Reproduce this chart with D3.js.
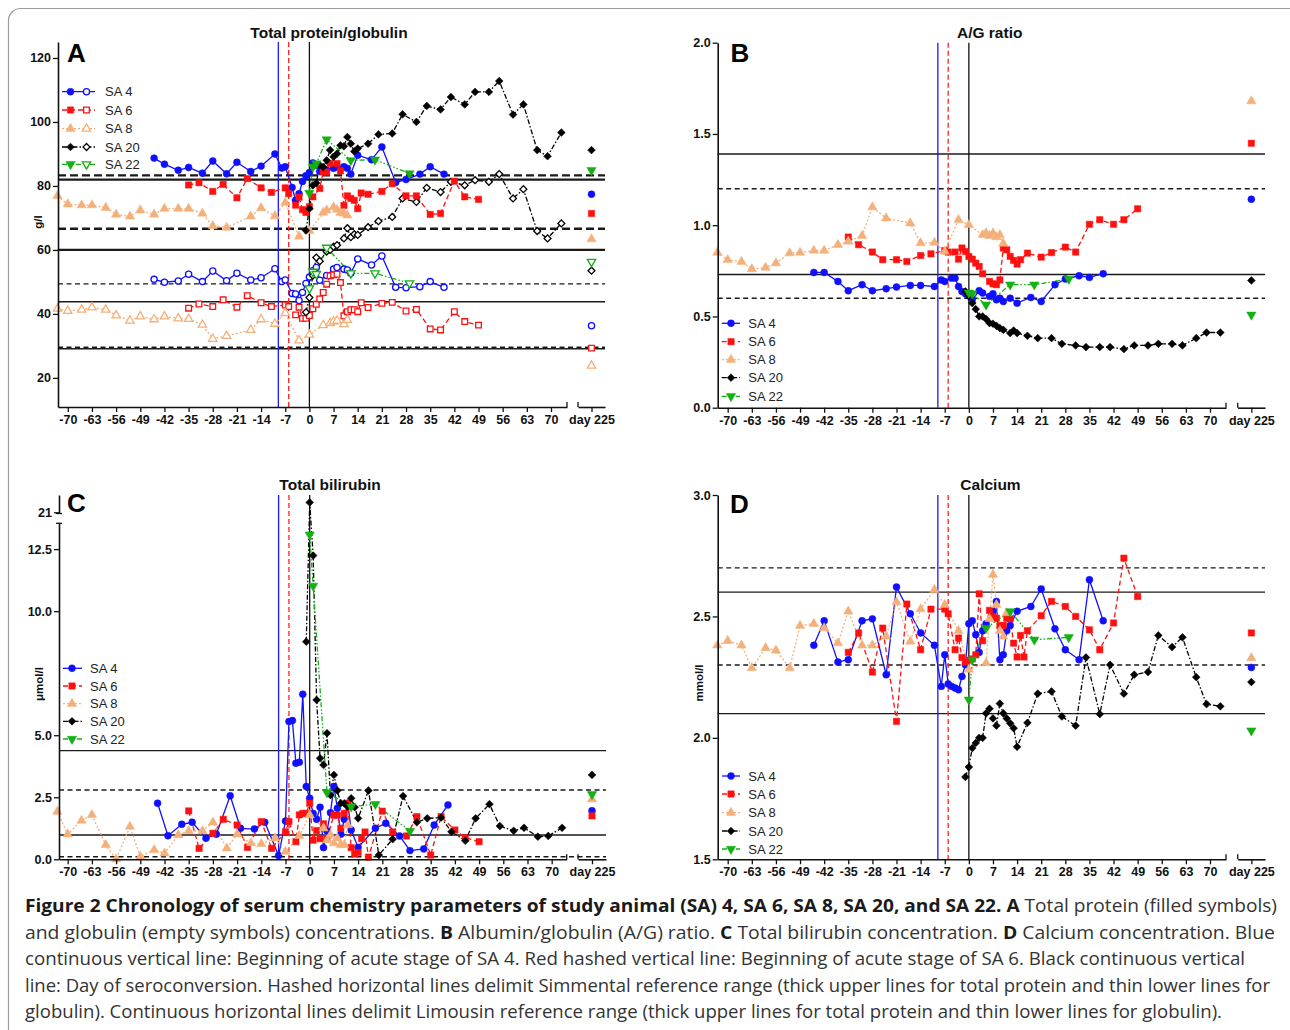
<!DOCTYPE html>
<html>
<head>
<meta charset="utf-8">
<script src="https://cdn.jsdelivr.net/npm/d3@7.9.0/dist/d3.min.js"></script>
<style>
  body { margin: 0; background: #fff; }
  svg { display: block; }
</style>
</head>
<body>
<svg id="fig" width="1290" height="1030"></svg>
<script>
// animals, in legend order
const animals = ['SA 4', 'SA 6', 'SA 8', 'SA 20', 'SA 22'];
const xTicks = d3.range(-70, 71, 7);

// ---- A: total protein (filled) / globulin (open), g/l
const tpSA4 = [[-45,88.7],[-42,86.8],[-38,84.9],[-35,85.8],[-31,84],[-28,87.8],[-24,83.8],[-21,87.4],[-17,84.5],[-14,86.2],[-10,90],[-8,85.6],[-7,86],[-5,79.5],[-4,75.5],[-3,77.6],[-2,81.4],[-1,83.2],[0,84.2],[1,87.2],[2,86.5],[3,84.5],[5,85],[7,85.5],[8,86],[10,86],[11,85.5],[12,83.7],[14,89.6],[18,88.2],[21,92.2],[25,81.1],[28,82],[32,83.7],[35,86],[39,83.7]];
const tpSA6 = [[-35,80.3],[-32,81],[-28,78.3],[-25,80.5],[-21,76.3],[-18,82.3],[-14,79.4],[-11,78],[-7,79.4],[-6,77.6],[-4,74],[-3,76.5],[-2,72.6],[-1,71.7],[0,73.5],[1,76.6],[3,79.2],[4,84.4],[5,84.3],[6,87],[8,87],[9,84.7],[10,73.9],[11,76.9],[12,76.1],[13,75.5],[14,72.9],[15,77.8],[17,77.4],[21,78.3],[24,80.7],[28,76.9],[31,76.9],[35,71.1],[38,71.4],[42,81.5],[45,76.6],[49,75.8]];
const tpSA8 = [[-73,76.9],[-70,74.3],[-66,74],[-63,74],[-59,73.2],[-56,71.1],[-52,70.5],[-49,72.4],[-45,71.1],[-42,72.9],[-38,72.9],[-35,72.9],[-31,71.4],[-28,67.5],[-24,67],[-17,70.5],[-14,73.1],[-10,70.6],[-7,74.8],[-3,64.2],[0,66],[4,71.7],[5,72.4],[7,73.4],[8,72.6],[9,71.6],[10,71.4],[11,70.8]];
const tpSA20 = [[-1,66.1],[0,72.9],[1,80.2],[2,80.9],[3,86.5],[4,85.9],[5,88],[6,91.2],[7,89.1],[8,90.1],[9,92.7],[10,92.4],[11,95.3],[12,93.2],[13,90.8],[14,91.7],[17,93.2],[20,96.1],[24,96.4],[27,102.4],[31,100],[34,105],[38,103.9],[41,107.8],[45,105.5],[48,109.4],[52,109.4],[55,112.8],[59,102.3],[62,105.5],[66,91.2],[69,89.3],[73,96.7]];
const tpSA22 = [[0,77.8],[1,86],[2,87],[5,94.5],[12,88],[19,88.2],[29,83.9]];
const globSA4 = [[-45,50.8],[-42,49.9],[-38,50.3],[-35,52.4],[-31,50.1],[-28,53.4],[-24,50.4],[-21,52.7],[-17,50.6],[-14,51.3],[-10,54.1],[-8,50.1],[-7,50.6],[-5,46.4],[-4,46.2],[-3,44.2],[-2,46.7],[-1,49.5],[0,51.5],[1,53.5],[2,54.5],[3,50.5],[5,52],[7,54],[8,54.5],[10,54],[11,53.7],[12,52.7],[14,57.2],[18,55.3],[21,58.1],[25,48.3],[28,48.2],[32,48.5],[35,50.1],[39,48.3]];
const globSA6 = [[-35,41.8],[-32,43.1],[-28,42.3],[-25,44.4],[-21,42.1],[-18,45.7],[-14,43.5],[-11,42.3],[-7,42.8],[-6,42.3],[-4,39.7],[-3,42.1],[-2,38.6],[-1,38.6],[0,39.5],[1,41.6],[2,43],[3,44.7],[4,46.7],[5,49.3],[6,51.9],[7,52.2],[8,52.4],[9,49.8],[10,39.4],[11,40.7],[12,41.3],[13,41.3],[14,40.7],[15,43.5],[17,42],[21,43.3],[24,43.6],[28,40.9],[31,41.4],[35,35.3],[38,35],[42,40.7],[45,37.6],[49,36.5]];
const globSA8 = [[-73,41.6],[-70,40.9],[-66,41.3],[-63,42],[-59,41.3],[-56,39.5],[-52,37.9],[-49,39.2],[-45,38.3],[-42,39.2],[-38,38.6],[-35,38.4],[-31,36.6],[-28,32.2],[-24,33.1],[-17,35],[-14,38.3],[-10,36.9],[-7,40.2],[-3,31.7],[0,33.5],[4,36.5],[6,37.1],[7,37.6],[8,37.9],[10,36.8],[11,38.1]];
const globSA20 = [[-1,40.5],[0,45.1],[1,52],[2,57.6],[3,56.5],[5,59.5],[6,60],[7,61],[8,61.5],[10,63.6],[11,66.8],[12,64],[13,64.9],[14,64.7],[17,67.1],[20,69],[24,70.3],[27,76.1],[31,75],[34,79.4],[38,78.1],[41,81.3],[45,80.2],[48,81.8],[52,81.3],[55,83.7],[59,76.1],[62,79],[66,65.9],[69,63.6],[73,68.3]];
const globSA22 = [[0,48],[1,53.2],[2,52.5],[5,60.7],[12,52.7],[19,52.7],[29,49.6]];
const tpDay225 = [77.4, 71.4, 63.4, 91.2, 84.9];
const globDay225 = [36.3, 29.3, 23.8, 53.5, 56.3];
const refTpSimmental = [66.6, 83.3];
const refTpLimousin = [60, 82];
const refGlobSimmental = [29.6, 49.4];
const refGlobLimousin = [29.1, 43.8];

// ---- B: A/G ratio
const agSA4 = [[-45,0.741],[-42,0.741],[-38,0.692],[-35,0.641],[-31,0.674],[-28,0.641],[-24,0.652],[-21,0.661],[-17,0.67],[-14,0.67],[-10,0.664],[-8,0.70],[-7,0.692],[-5,0.71],[-4,0.71],[-3,0.664],[-2,0.637],[-1,0.624],[0,0.613],[1,0.591],[3,0.641],[4,0.628],[6,0.61],[7,0.624],[8,0.591],[9,0.6],[10,0.582],[12,0.6],[14,0.573],[18,0.604],[21,0.582],[25,0.674],[28,0.705],[32,0.723],[35,0.714],[39,0.734]];
const agSA6 = [[-35,0.935],[-32,0.893],[-28,0.853],[-25,0.811],[-21,0.811],[-18,0.801],[-14,0.834],[-11,0.843],[-7,0.861],[-6,0.853],[-4,0.853],[-3,0.814],[-2,0.875],[-1,0.856],[0,0.829],[1,0.814],[2,0.792],[3,0.774],[4,0.734],[6,0.692],[7,0.679],[8,0.674],[9,0.70],[10,0.875],[11,0.865],[12,0.829],[13,0.807],[14,0.787],[15,0.811],[17,0.847],[21,0.825],[24,0.85],[28,0.88],[31,0.853],[35,1.005],[38,1.03],[42,1.005],[45,1.03],[49,1.09]];
const agSA8 = [[-73,0.85],[-70,0.81],[-66,0.80],[-63,0.76],[-59,0.768],[-56,0.792],[-52,0.847],[-49,0.85],[-45,0.861],[-42,0.861],[-38,0.893],[-35,0.911],[-31,0.942],[-28,1.099],[-24,1.038],[-17,1.011],[-14,0.902],[-10,0.905],[-7,0.856],[-3,1.029],[0,1.002],[4,0.947],[5,0.957],[6,0.942],[7,0.957],[8,0.935],[9,0.947],[10,0.9]];
const agSA20 = [[-1,0.637],[0,0.61],[1,0.573],[2,0.54],[3,0.5],[4,0.5],[5,0.486],[6,0.464],[7,0.46],[8,0.449],[9,0.436],[10,0.427],[12,0.409],[13,0.423],[14,0.409],[17,0.394],[20,0.381],[24,0.381],[27,0.35],[31,0.341],[34,0.332],[38,0.332],[41,0.332],[45,0.321],[48,0.341],[52,0.341],[55,0.35],[59,0.35],[62,0.341],[66,0.381],[69,0.412],[73,0.412]];
const agSA22 = [[0,0.63],[1,0.625],[5,0.564],[12,0.674],[19,0.674],[29,0.705]];
const agDay225 = [1.142, 1.449, 1.68, 0.697, 0.509];
const refAgSimmental = [0.6, 1.2];
const refAgLimousin = [0.73, 1.39];

// ---- C: total bilirubin, µmol/l
const bilSA4 = [[-44,2.26],[-41,0.95],[-37,1.41],[-34,1.49],[-30,0.85],[-27,1.01],[-23,2.56],[-20,1.25],[-16,1.22],[-13,1.49],[-9,0.15],[-7,1.54],[-6,5.55],[-5,5.59],[-4,3.87],[-3,3.91],[-2,6.65],[-1,2.93],[0,2.46],[1,1.85],[2,1.61],[3,2.1],[4,0.47],[5,1.14],[6,1.88],[7,2.93],[8,2.06],[9,1.01],[10,1.61],[11,2.26],[12,1.18],[14,0.48],[19,1.25],[22,1.45],[26,0.94],[29,0.35],[33,0.42],[36,1.38],[40,2.19]];
const bilSA6 = [[-35,1.95],[-32,0.44],[-28,1.05],[-25,1.61],[-21,1.38],[-18,0.48],[-14,1.52],[-11,0.44],[-7,1.11],[-6,1.52],[-4,0.71],[-3,1.79],[-2,1.85],[-1,1.85],[0,2.26],[1,0.77],[2,1.16],[3,0.83],[4,1.43],[5,0.83],[7,1.78],[8,1.78],[9,1.25],[10,1.85],[11,2.26],[12,0.47],[13,0.21],[14,0.27],[15,0.83],[16,1.1],[17,0.09],[21,1.94],[24,1.1],[28,0.94],[31,1.72],[35,0.17],[38,1.72],[42,1.18],[45,0.87],[49,0.71]];
const bilSA8 = [[-73,1.92],[-70,1.01],[-66,1.56],[-63,1.79],[-59,0.58],[-56,0],[-52,1.32],[-49,0.11],[-45,0.38],[-42,0.24],[-38,0.98],[-35,1.14],[-31,1.14],[-28,1.49],[-24,0.44],[-21,1.01],[-17,0.65],[-14,0.62],[-10,0.85],[-7,0.31],[-3,0.95],[0,1.79],[4,1.25],[5,0.77],[6,0.98],[7,0.65],[8,0.85],[9,0.58],[10,0.58],[11,1.38]];
const bilSA20 = [[-1,8.77],[0,21.4],[1,12.24],[2,6.42],[3,4.07],[4,3.8],[5,5.08],[6,2.59],[7,3.4],[8,2.77],[9,2.26],[10,2.25],[11,2.12],[12,2.46],[13,2.1],[14,1.65],[17,2.77],[20,0.17],[24,0.81],[27,2.55],[31,1.49],[34,1.65],[38,1.68],[41,1.11],[45,0.75],[48,1.65],[52,2.22],[55,1.34],[59,1.15],[62,1.27],[66,0.91],[69,0.94],[73,1.27]];
const bilSA22 = [[0,13.08],[1,11.02],[5,2.69],[12,2.12],[19,2.22],[29,1.14]];
const bilDay225 = [1.96, 1.75, 2.42, 3.4, 2.62];
const refBilSimmental = [0.1, 2.79];
const refBilLimousin = [0.98, 4.38];

// ---- D: calcium, mmol/l
const caSA4 = [[-45,2.381],[-42,2.482],[-38,2.312],[-35,2.322],[-31,2.482],[-28,2.49],[-24,2.26],[-21,2.621],[-17,2.511],[-14,2.432],[-10,2.381],[-8,2.212],[-7,2.342],[-6,2.222],[-5,2.212],[-4,2.205],[-3,2.198],[-2,2.253],[-1,2.301],[0,2.47],[1,2.482],[2,2.425],[3,2.352],[4,2.441],[5,2.47],[7,2.521],[8,2.562],[9,2.322],[10,2.342],[11,2.441],[12,2.463],[14,2.521],[18,2.541],[21,2.613],[25,2.449],[28,2.363],[32,2.322],[35,2.651],[39,2.482]];
const caSA6 = [[-35,2.352],[-32,2.432],[-28,2.271],[-25,2.452],[-21,2.068],[-18,2.551],[-14,2.363],[-11,2.53],[-7,2.53],[-6,2.511],[-4,2.363],[-3,2.411],[-2,2.331],[-1,2.312],[0,2.32],[1,2.325],[2,2.342],[3,2.593],[4,2.4],[6,2.525],[7,2.5],[8,2.493],[9,2.462],[10,2.463],[11,2.493],[12,2.49],[13,2.39],[14,2.333],[15,2.422],[16,2.333],[17,2.441],[21,2.503],[24,2.562],[28,2.541],[31,2.5],[35,2.445],[38,2.363],[42,2.473],[45,2.74],[49,2.582]];
const caSA8 = [[-73,2.381],[-70,2.4],[-66,2.381],[-63,2.288],[-59,2.37],[-56,2.36],[-52,2.288],[-49,2.462],[-45,2.47],[-42,2.452],[-38,2.39],[-35,2.521],[-31,2.381],[-28,2.381],[-24,2.418],[-21,2.559],[-17,2.397],[-14,2.53],[-10,2.61],[-7,2.548],[-3,2.441],[0,2.281],[5,2.308],[6,2.49],[7,2.672],[8,2.548],[9,2.441],[10,2.418],[11,2.514]];
const caSA20 = [[-1,1.839],[0,1.88],[1,1.958],[2,1.979],[3,2.0],[4,2.0],[5,2.101],[6,2.12],[7,2.08],[8,2.05],[9,2.141],[10,2.101],[11,2.08],[12,2.06],[13,2.04],[14,1.963],[17,2.062],[20,2.182],[24,2.191],[27,2.088],[31,2.05],[34,2.331],[38,2.098],[41,2.301],[45,2.182],[48,2.26],[52,2.271],[55,2.422],[59,2.374],[62,2.414],[66,2.25],[69,2.139],[73,2.13]];
const caSA22 = [[0,2.157],[1,2.322],[5,2.452],[12,2.521],[19,2.404],[29,2.414]];
const caDay225 = [2.29, 2.432, 2.329, 2.23, 2.03];
const refCaSimmental = [2.3, 2.7];
const refCaLimousin = [2.1, 2.6];

// ---- styling
const colors = ['#1010ff', '#ff1010', '#f4b07a', '#000000', '#14b014'];
const dashes = [null, '5,3', '2,2', '5,2,1.5,2', '5,2,1.5,2,1.5,2'];
const symTypes = [d3.symbolCircle, d3.symbolSquare, d3.symbolTriangle, d3.symbolSquare, d3.symbolTriangle];
const symRot = [0, 0, 0, 45, 180];
const symSize = [38, 40, 38, 30, 38];
const FONT = '"Liberation Sans", Arial, Helvetica, sans-serif';

const svg = d3.select('#fig');
svg.append('rect')
  .attr('x', 8.5).attr('y', 8.5).attr('width', 1310).attr('height', 1100).attr('rx', 12)
  .attr('fill', '#fff').attr('stroke', '#9c9c9c').attr('stroke-width', 1.2);

function drawMarker(g, i, cx, cy, open) {
  g.append('path')
    .attr('d', d3.symbol().type(symTypes[i]).size(open ? symSize[i] * 0.8 : symSize[i])())
    .attr('transform', `translate(${cx},${cy}) rotate(${symRot[i]})`)
    .attr('fill', open ? '#fff' : colors[i])
    .attr('stroke', colors[i])
    .attr('stroke-width', open ? 1.3 : 0.5);
}

function styleAxis(a) {
  a.attr('font-family', FONT).attr('font-size', 12.5).attr('font-weight', 'bold');
  a.select('.domain').attr('stroke', '#111').attr('stroke-width', 1.6);
  a.selectAll('.tick line').attr('stroke', '#111').attr('stroke-width', 1.3);
  a.selectAll('.tick text').attr('fill', '#111');
}

function drawPanel(p) {
  const g = svg.append('g');
  const x = d3.scaleLinear().domain([-70, 70]).range(p.xr);
  const x2 = d3.scaleLinear().domain([221, 229]).range(p.seg2);
  const xp = d => d > 150 ? x2(d) : x(d);
  const y = p.y;

  // reference lines
  p.refs.forEach(r => {
    r.vals.forEach(v => {
      g.append('line')
        .attr('x1', p.left).attr('x2', p.seg2[1])
        .attr('y1', y(v)).attr('y2', y(v))
        .attr('stroke', '#1a1a1a').attr('stroke-width', r.w)
        .attr('stroke-dasharray', r.dash);
    });
  });

  // vertical event lines
  const vlines = [
    { d: -9, c: '#1a1aff', dash: null },
    { d: -6, c: '#ff2020', dash: '5,3' },
    { d: 0, c: '#111', dash: null }
  ];
  vlines.forEach(v => {
    g.append('line')
      .attr('x1', x(v.d)).attr('x2', x(v.d))
      .attr('y1', p.top).attr('y2', p.bottom)
      .attr('stroke', v.c).attr('stroke-width', 1.3)
      .attr('stroke-dasharray', v.dash);
  });

  // series lines
  const line = d3.line().x(d => xp(d[0])).y(d => y(d[1]));
  p.series.forEach(s => {
    g.append('path').datum(s.data)
      .attr('d', line)
      .attr('fill', 'none')
      .attr('stroke', colors[s.i]).attr('stroke-width', 1.3)
      .attr('stroke-dasharray', dashes[s.i]);
  });
  p.series.forEach(s => {
    s.data.forEach(d => drawMarker(g, s.i, xp(d[0]), y(d[1]), s.open));
  });
  p.day225.forEach(set => {
    set.vals.forEach((v, i) => drawMarker(g, i, x2(225), y(v), set.open));
  });

  // x axis (main segment + day 225 segment)
  const xa = d3.scaleLinear().domain([x.invert(p.left), x.invert(p.brk)]).range([p.left, p.brk]);
  const ax1 = g.append('g').attr('transform', `translate(0,${p.bottom})`)
    .call(d3.axisBottom(xa).tickValues(xTicks).tickFormat(d => String(d)).tickSize(5).tickSizeOuter(0).tickPadding(3));
  styleAxis(ax1);
  const ax2 = g.append('g').attr('transform', `translate(0,${p.bottom})`)
    .call(d3.axisBottom(x2).tickValues([225]).tickFormat(() => 'day 225').tickSize(5).tickSizeOuter(0).tickPadding(3));
  styleAxis(ax2);
  [p.brk, p.seg2[0]].forEach(bx => {
    g.append('line').attr('x1', bx).attr('x2', bx)
      .attr('y1', p.bottom - 5).attr('y2', p.bottom)
      .attr('stroke', '#111').attr('stroke-width', 1.3);
  });

  // y axis
  p.yAxes.forEach(ya => {
    const a = g.append('g').attr('transform', `translate(${p.left},0)`)
      .call(d3.axisLeft(ya.scale).tickValues(ya.ticks).tickFormat(ya.fmt).tickSize(5).tickSizeOuter(0).tickPadding(2));
    styleAxis(a);
  });
  if (p.yBreak) {
    p.yBreak.forEach(by => {
      g.append('line').attr('x1', p.left - 3).attr('x2', p.left + 3)
        .attr('y1', by).attr('y2', by)
        .attr('stroke', '#111').attr('stroke-width', 1.3);
    });
  }

  // title, panel letter, unit label
  g.append('text').attr('x', p.titleX).attr('y', p.titleY)
    .attr('text-anchor', 'middle').attr('font-family', FONT)
    .attr('font-size', 15.5).attr('font-weight', 'bold').attr('fill', '#111')
    .text(p.title);
  g.append('text').attr('x', p.letter[0]).attr('y', p.letter[1])
    .attr('font-family', FONT).attr('font-size', 26).attr('font-weight', 'bold').attr('fill', '#000')
    .text(p.key);
  if (p.ylabel) {
    g.append('text')
      .attr('transform', `translate(${p.ylabelPos[0]},${p.ylabelPos[1]}) rotate(-90)`)
      .attr('text-anchor', 'middle').attr('dy', '0.35em')
      .attr('font-family', FONT).attr('font-size', 11.5).attr('font-weight', 'bold').attr('fill', '#111')
      .text(p.ylabel);
  }

  // legend
  const L = p.legend;
  animals.forEach((name, i) => {
    const ry = L.rows[i];
    g.append('line').attr('x1', L.x0).attr('x2', L.x1).attr('y1', ry).attr('y2', ry)
      .attr('stroke', colors[i]).attr('stroke-width', 1.3).attr('stroke-dasharray', dashes[i]);
    drawMarker(g, i, L.m[0], ry, false);
    if (L.m.length > 1) drawMarker(g, i, L.m[1], ry, true);
    g.append('text').attr('x', L.tx).attr('y', ry).attr('dy', '0.36em')
      .attr('font-family', FONT).attr('font-size', 13).attr('fill', '#222')
      .text(name);
  });
}

const fmt1 = d3.format('.1f');
const thickDash = '8,4', thinDash = '5,3.5';

// panel A
const yA = d3.scaleLinear().domain([10.9, 125]).range([407, 42]);
drawPanel({
  key: 'A', left: 58, xr: [67.8, 551], brk: 567, seg2: [578, 605], bottom: 407, top: 42,
  y: yA, yAxes: [{ scale: yA, ticks: [20, 40, 60, 80, 100, 120], fmt: d3.format('d') }],
  refs: [
    { vals: refTpSimmental, w: 2.4, dash: thickDash },
    { vals: refTpLimousin, w: 2.2, dash: null },
    { vals: refGlobSimmental, w: 1.4, dash: thinDash },
    { vals: refGlobLimousin, w: 1.4, dash: null }
  ],
  series: [
    { i: 0, data: globSA4, open: true }, { i: 1, data: globSA6, open: true }, { i: 2, data: globSA8, open: true },
    { i: 3, data: globSA20, open: true }, { i: 4, data: globSA22, open: true },
    { i: 0, data: tpSA4 }, { i: 1, data: tpSA6 }, { i: 2, data: tpSA8 }, { i: 3, data: tpSA20 }, { i: 4, data: tpSA22 }
  ],
  day225: [{ vals: tpDay225, open: false }, { vals: globDay225, open: true }],
  title: 'Total protein/globulin', titleX: 329, titleY: 38, letter: [67, 62],
  ylabel: 'g/l', ylabelPos: [38, 222],
  legend: { x0: 62, x1: 95, m: [70.5, 86.5], tx: 105, rows: [91.7, 110, 128.7, 147, 164.3] }
});

// panel B
const yB = d3.scaleLinear().domain([0, 2]).range([407.7, 42.7]);
drawPanel({
  key: 'B', left: 717.7, xr: [727.7, 1210], brk: 1226, seg2: [1237.7, 1265], bottom: 407.7, top: 42.7,
  y: yB, yAxes: [{ scale: yB, ticks: [0, 0.5, 1, 1.5, 2], fmt: fmt1 }],
  refs: [
    { vals: refAgSimmental, w: 1.4, dash: thinDash },
    { vals: refAgLimousin, w: 1.4, dash: null }
  ],
  series: [
    { i: 0, data: agSA4 }, { i: 1, data: agSA6 }, { i: 2, data: agSA8 }, { i: 3, data: agSA20 }, { i: 4, data: agSA22 }
  ],
  day225: [{ vals: agDay225, open: false }],
  title: 'A/G ratio', titleX: 989.7, titleY: 38, letter: [730.5, 62],
  ylabel: null,
  legend: { x0: 721.7, x1: 740, m: [731], tx: 748.3, rows: [323.3, 341.7, 359.7, 377.7, 396.3] }
});

// panel C (broken y axis)
const yCl = d3.scaleLinear().domain([0, 13.54]).range([859.3, 523.3]);
const yCu = d3.scaleLinear().domain([20.95, 21.7]).range([513.5, 495]);
const yC = v => v > 17 ? yCu(v) : yCl(v);
drawPanel({
  key: 'C', left: 59, xr: [67.7, 551.7], brk: 566.7, seg2: [578, 606], bottom: 859.3, top: 495,
  y: yC,
  yAxes: [
    { scale: yCl, ticks: [0, 2.5, 5, 10, 12.5], fmt: fmt1 },
    { scale: yCu, ticks: [21], fmt: d3.format('d') }
  ],
  yBreak: [523.3, 513.5],
  refs: [
    { vals: refBilSimmental, w: 1.4, dash: thinDash },
    { vals: refBilLimousin, w: 1.4, dash: null }
  ],
  series: [
    { i: 0, data: bilSA4 }, { i: 1, data: bilSA6 }, { i: 2, data: bilSA8 }, { i: 3, data: bilSA20 }, { i: 4, data: bilSA22 }
  ],
  day225: [{ vals: bilDay225, open: false }],
  title: 'Total bilirubin', titleX: 330, titleY: 490, letter: [67, 512],
  ylabel: 'μmol/l', ylabelPos: [38.5, 684],
  legend: { x0: 63, x1: 82, m: [72], tx: 90, rows: [668.3, 686, 703.7, 721.3, 739] }
});

// panel D
const yD = d3.scaleLinear().domain([1.5, 3.0]).range([859.3, 495]);
drawPanel({
  key: 'D', left: 717.7, xr: [727.7, 1210], brk: 1226, seg2: [1237.7, 1265], bottom: 859.3, top: 495,
  y: yD, yAxes: [{ scale: yD, ticks: [1.5, 2, 2.5, 3], fmt: fmt1 }],
  refs: [
    { vals: refCaSimmental, w: 1.4, dash: thinDash },
    { vals: refCaLimousin, w: 1.4, dash: null }
  ],
  series: [
    { i: 0, data: caSA4 }, { i: 1, data: caSA6 }, { i: 2, data: caSA8 }, { i: 3, data: caSA20 }, { i: 4, data: caSA22 }
  ],
  day225: [{ vals: caDay225, open: false }],
  title: 'Calcium', titleX: 990.5, titleY: 490, letter: [730, 513],
  ylabel: 'mmol/l', ylabelPos: [698.5, 683],
  legend: { x0: 722, x1: 740, m: [731], tx: 748.3, rows: [776, 794, 812.7, 831, 849] }
});

// caption
const captionLines = [
  { w: 1252, parts: [['b', 'Figure 2 Chronology of serum chemistry parameters of study animal (SA) 4, SA 6, SA 8, SA 20, and SA 22.'], ['r', ' '], ['b', 'A'], ['r', ' Total protein (filled symbols)']] },
  { w: 1250, parts: [['r', 'and globulin (empty symbols) concentrations. '], ['b', 'B'], ['r', ' Albumin/globulin (A/G) ratio. '], ['b', 'C'], ['r', ' Total bilirubin concentration. '], ['b', 'D'], ['r', ' Calcium concentration. Blue']] },
  { w: 1220, parts: [['r', 'continuous vertical line: Beginning of acute stage of SA 4. Red hashed vertical line: Beginning of acute stage of SA 6. Black continuous vertical']] },
  { w: 1245, parts: [['r', 'line: Day of seroconversion. Hashed horizontal lines delimit Simmental reference range (thick upper lines for total protein and thin lower lines for']] },
  { w: 1197, parts: [['r', 'globulin). Continuous horizontal lines delimit Limousin reference range (thick upper lines for total protein and thin lower lines for globulin).']] }
];
const capY = [912, 938.5, 965, 991.5, 1018];
captionLines.forEach((ln, k) => {
  const t = svg.append('text').attr('x', 25).attr('y', capY[k])
    .attr('font-family', '"Open Sans", "Noto Sans", sans-serif').attr('font-size', 18.5)
    .attr('textLength', ln.w).attr('lengthAdjust', 'spacingAndGlyphs');
  ln.parts.forEach(([s, txt]) => {
    t.append('tspan')
      .attr('font-weight', s === 'b' ? 'bold' : 'normal')
      .attr('fill', s === 'b' ? '#1a1a1a' : '#333')
      .text(txt);
  });
});
</script>
</body>
</html>
